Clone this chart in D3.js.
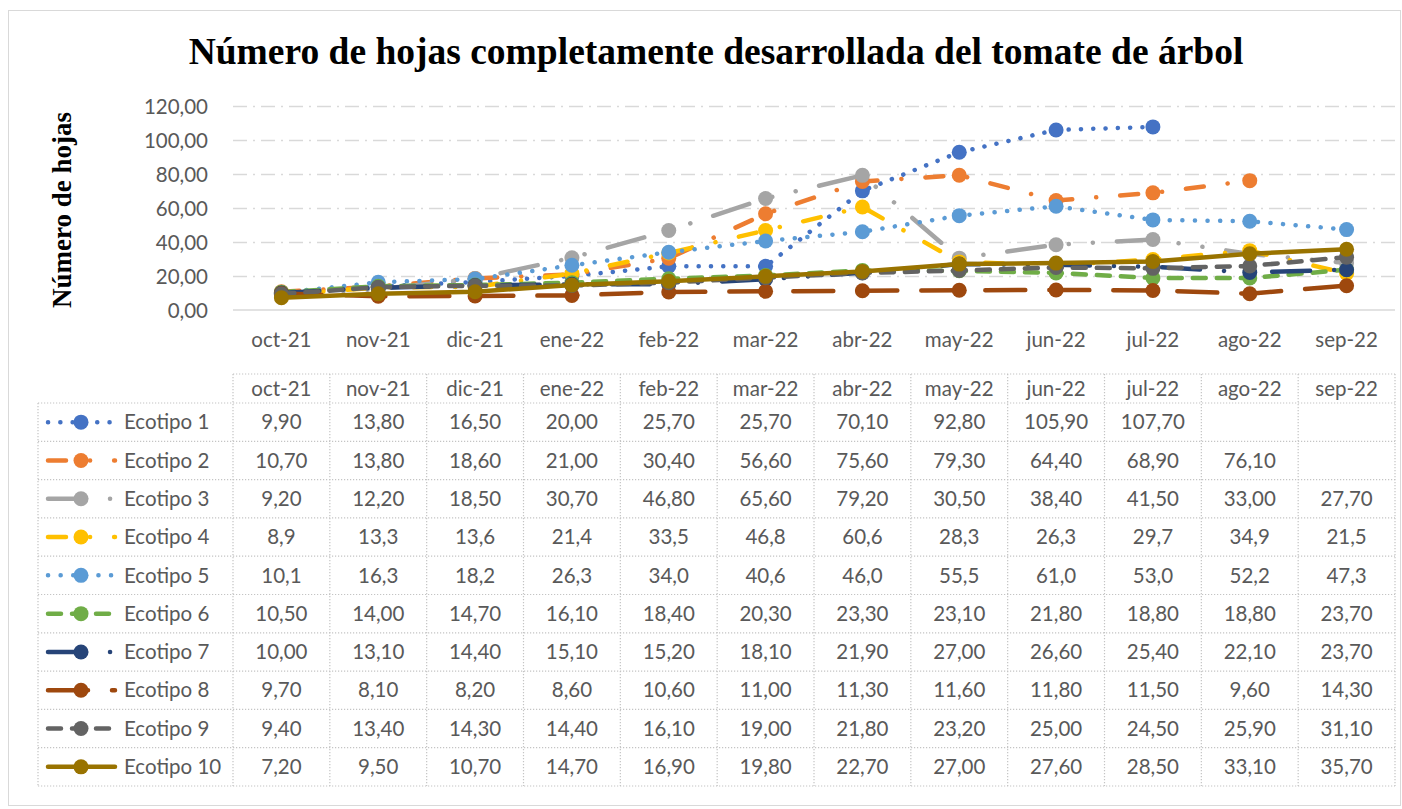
<!DOCTYPE html>
<html><head><meta charset="utf-8">
<script src="https://cdn.jsdelivr.net/npm/d3@7"></script>
<style>
html,body{margin:0;padding:0;background:#fff;}
svg{display:block;}
</style></head>
<body>
<svg id="chart" width="1402" height="809"></svg>
<script>
const categories = ["oct-21","nov-21","dic-21","ene-22","feb-22","mar-22","abr-22","may-22","jun-22","jul-22","ago-22","sep-22"];
const seriesNames = ["Ecotipo 1","Ecotipo 2","Ecotipo 3","Ecotipo 4","Ecotipo 5","Ecotipo 6","Ecotipo 7","Ecotipo 8","Ecotipo 9","Ecotipo 10"];
const ecotipo1  = [9.90, 13.80, 16.50, 20.00, 25.70, 25.70, 70.10, 92.80, 105.90, 107.70, null, null];
const ecotipo2  = [10.70, 13.80, 18.60, 21.00, 30.40, 56.60, 75.60, 79.30, 64.40, 68.90, 76.10, null];
const ecotipo3  = [9.20, 12.20, 18.50, 30.70, 46.80, 65.60, 79.20, 30.50, 38.40, 41.50, 33.00, 27.70];
const ecotipo4  = [8.9, 13.3, 13.6, 21.4, 33.5, 46.8, 60.6, 28.3, 26.3, 29.7, 34.9, 21.5];
const ecotipo5  = [10.1, 16.3, 18.2, 26.3, 34.0, 40.6, 46.0, 55.5, 61.0, 53.0, 52.2, 47.3];
const ecotipo6  = [10.50, 14.00, 14.70, 16.10, 18.40, 20.30, 23.30, 23.10, 21.80, 18.80, 18.80, 23.70];
const ecotipo7  = [10.00, 13.10, 14.40, 15.10, 15.20, 18.10, 21.90, 27.00, 26.60, 25.40, 22.10, 23.70];
const ecotipo8  = [9.70, 8.10, 8.20, 8.60, 10.60, 11.00, 11.30, 11.60, 11.80, 11.50, 9.60, 14.30];
const ecotipo9  = [9.40, 13.40, 14.30, 14.40, 16.10, 19.00, 21.80, 23.20, 25.00, 24.50, 25.90, 31.10];
const ecotipo10 = [7.20, 9.50, 10.70, 14.70, 16.90, 19.80, 22.70, 27.00, 27.60, 28.50, 33.10, 35.70];
const tableDecimals = [2, 2, 2, 1, 1, 2, 2, 2, 2, 2];
const yTicks = [0, 20, 40, 60, 80, 100, 120];
const titleText = "Número de hojas completamente desarrollada del tomate de árbol";
const yAxisTitle = "Número de hojas";

const seriesValues = [ecotipo1, ecotipo2, ecotipo3, ecotipo4, ecotipo5, ecotipo6, ecotipo7, ecotipo8, ecotipo9, ecotipo10];
const colors = ["#4472C4","#ED7D31","#A5A5A5","#FFC000","#5B9BD5","#70AD47","#264478","#9E480E","#636363","#997300"];
const dashes = [
  "0.1 12.2",              // round dot
  "18 24 0.1 24",          // long dash dot
  "38 24 0.1 24 0.1 24",   // long dash dot dot
  "18 24 0.1 24",          // long dash dot
  "0.1 12.5",              // round dot
  "13 11",                 // dash
  "38 24 0.1 24 0.1 24",   // long dash dot dot
  "40 24",                 // long dash
  "13 11",                 // dash
  null                     // solid
];

const svg = d3.select("#chart");
const txtFont = "Lato, 'Open Sans', sans-serif";
const txtColor = "#595959";
const fs = 20.5;

// outer border
svg.append("rect").attr("x", 8.5).attr("y", 10.5).attr("width", 1392).attr("height", 795)
  .attr("fill", "#fff").attr("stroke", "#d9d9d9").attr("stroke-width", 1);

const plotL = 233, plotR = 1395, plotT = 106, plotB = 310;
const x = d3.scaleBand().domain(categories).range([plotL, plotR]);
const xc = c => x(c) + x.bandwidth() / 2;
const y = d3.scaleLinear().domain([0, 120]).range([plotB, plotT]);

// title
svg.append("text").attr("x", 716).attr("y", 64).attr("text-anchor", "middle")
  .attr("font-family", "'Liberation Serif', 'Times New Roman', serif").attr("font-weight", "bold")
  .attr("font-size", 37.5).attr("fill", "#000").text(titleText);

// y axis title
svg.append("text").attr("transform", `translate(71,${(plotT + plotB) / 2 + 2}) rotate(-90)`)
  .attr("text-anchor", "middle")
  .attr("font-family", "'Liberation Serif', 'Times New Roman', serif").attr("font-weight", "bold")
  .attr("font-size", 27).attr("fill", "#000").text(yAxisTitle);

// gridlines
const grid = svg.append("g").attr("transform", `translate(${plotL},0)`)
  .call(d3.axisRight(y).tickValues(yTicks.filter(v => v > 0)).tickSize(plotR - plotL).tickFormat(""));
grid.select(".domain").remove();
grid.selectAll(".tick line").attr("stroke", "#d9d9d9").attr("stroke-width", 1.5).attr("stroke-dasharray", "14 6 2 6");

// axis line
svg.append("line").attr("x1", plotL).attr("x2", plotR).attr("y1", y(0)).attr("y2", y(0))
  .attr("stroke", "#d9d9d9").attr("stroke-width", 1.5);

// y axis labels
const fmt = (v, d) => v.toFixed(d).replace(".", ",");
const yAx = svg.append("g").attr("transform", `translate(${plotL - 25},0)`)
  .call(d3.axisLeft(y).tickValues(yTicks).tickSize(0).tickPadding(0).tickFormat(v => fmt(v, 2)));
yAx.select(".domain").remove();
yAx.selectAll("text").attr("font-family", txtFont).attr("font-size", fs).attr("fill", txtColor).attr("dy", "0.35em");

// x axis labels
const xAx = svg.append("g").attr("transform", `translate(0,${plotB})`)
  .call(d3.axisBottom(x).tickSize(0).tickPadding(0));
xAx.select(".domain").remove();
xAx.selectAll("text").attr("font-family", txtFont).attr("font-size", fs).attr("fill", txtColor)
  .attr("dy", null).attr("y", 37);

// series
const line = d3.line().defined(d => d.v !== null).x(d => xc(d.c)).y(d => y(d.v));
seriesValues.forEach((vals, i) => {
  const pts = vals.map((v, j) => ({ c: categories[j], v }));
  const g = svg.append("g");
  g.append("path").datum(pts).attr("d", line).attr("fill", "none")
    .attr("stroke", colors[i]).attr("stroke-width", 4.5)
    .attr("stroke-linecap", "round").attr("stroke-linejoin", "round")
    .attr("stroke-dasharray", dashes[i]);
  g.selectAll("circle").data(pts.filter(d => d.v !== null)).join("circle")
    .attr("cx", d => xc(d.c)).attr("cy", d => y(d.v)).attr("r", 7.5).attr("fill", colors[i]);
});

// data table
const tblTop = 374, hdrB = 403, rowH = 38.3, legL = 38;
const rowsB = hdrB + rowH * seriesNames.length;
const tg = svg.append("g");
const bStyle = s => s.attr("stroke", "#c4c4c4").attr("stroke-width", 1.2).attr("stroke-dasharray", "1.2 1.8").attr("fill", "none");
tg.append("line").attr("x1", plotL).attr("x2", plotR).attr("y1", tblTop).attr("y2", tblTop).call(bStyle);
for (let r = 0; r <= seriesNames.length; r++) {
  const yy = hdrB + rowH * r;
  tg.append("line").attr("x1", legL).attr("x2", plotR).attr("y1", yy).attr("y2", yy).call(bStyle);
}
tg.append("line").attr("x1", legL).attr("x2", legL).attr("y1", hdrB).attr("y2", rowsB).call(bStyle);
categories.forEach(c => {
  tg.append("line").attr("x1", x(c)).attr("x2", x(c)).attr("y1", tblTop).attr("y2", rowsB).call(bStyle);
});
tg.append("line").attr("x1", plotR).attr("x2", plotR).attr("y1", tblTop).attr("y2", rowsB).call(bStyle);

// header text
tg.selectAll("text.hdr").data(categories).join("text").attr("class", "hdr")
  .attr("x", c => xc(c)).attr("y", (tblTop + hdrB) / 2).attr("dy", "0.35em")
  .attr("text-anchor", "middle").attr("font-family", txtFont).attr("font-size", fs).attr("fill", txtColor)
  .text(c => c);

seriesNames.forEach((name, i) => {
  const cy = hdrB + rowH * (i + 0.5);
  tg.append("path").attr("d", d3.line()([[48, cy], [115, cy]])).attr("fill", "none")
    .attr("stroke", colors[i]).attr("stroke-width", 4.5).attr("stroke-linecap", "round")
    .attr("stroke-dasharray", dashes[i]);
  tg.append("circle").attr("cx", 81).attr("cy", cy).attr("r", 7.5).attr("fill", colors[i]);
  tg.append("text").attr("x", 124).attr("y", cy).attr("dy", "0.35em")
    .attr("font-family", txtFont).attr("font-size", fs).attr("fill", txtColor).text(name);
  seriesValues[i].forEach((v, j) => {
    if (v === null) return;
    tg.append("text").attr("x", xc(categories[j])).attr("y", cy).attr("dy", "0.35em")
      .attr("text-anchor", "middle").attr("font-family", txtFont).attr("font-size", fs).attr("fill", txtColor)
      .text(fmt(v, tableDecimals[i]));
  });
});
</script>
</body></html>
